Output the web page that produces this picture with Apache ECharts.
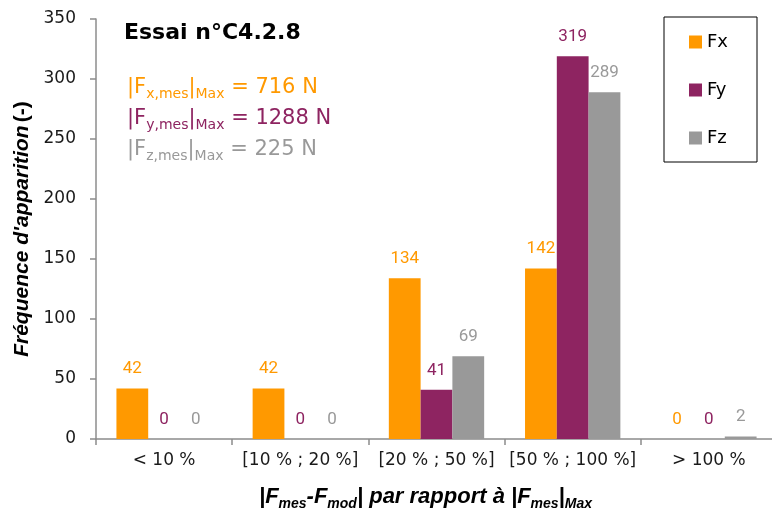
<!DOCTYPE html>
<html>
<head>
<meta charset="utf-8">
<script src="https://cdn.jsdelivr.net/npm/echarts@6/dist/echarts.min.js"></script>
<style>html,body{margin:0;padding:0;background:#fff;}#c{width:772px;height:510px;}</style>
</head>
<body>
<div id="c"></div>
<script>
const categories = ['< 10 %', '[10 % ; 20 %]', '[20 % ; 50 %]', '[50 % ; 100 %]', '> 100 %'];
const seriesNames = ['Fx', 'Fy', 'Fz'];
const fxValues = [42, 42, 134, 142, 0];
const fyValues = [0, 0, 41, 319, 0];
const fzValues = [0, 0, 69, 289, 2];
const yMin = 0, yMax = 350, yInterval = 50;
const titleText = 'Essai n°C4.2.8';
const maxForces = [
  {axis: 'x', value: 716},
  {axis: 'y', value: 1288},
  {axis: 'z', value: 225}
];

const colors = ['#FF9900', '#8E2461', '#999999'];
const FONT = '"DejaVu Sans", sans-serif';
const NAMEFONT = '"Liberation Sans", sans-serif';

function annotationLine(item, i) {
  const c = colors[i];
  return {
    type: 'text',
    left: 127,
    top: 77 + i * 31,
    style: {
      text: '{m||F}{s|' + item.axis + ',mes}{m||}{s|Max}{m| = ' + item.value + ' N}',
      rich: {
        m: {fontSize: 21, fontFamily: FONT, fill: c, lineHeight: 27},
        s: {fontSize: 14, fontFamily: FONT, fill: c, lineHeight: 14, verticalAlign: 'bottom'}
      }
    }
  };
}

const chart = echarts.init(document.getElementById('c'), null, {renderer: 'canvas'});
const seriesData = [fxValues, fyValues, fzValues];

chart.setOption({
  backgroundColor: '#ffffff',
  animation: false,
  color: colors,
  grid: {left: 96, right: -5, top: 19, bottom: 71, containLabel: false, outerBoundsMode: 'none'},
  legend: {
    data: seriesNames,
    orient: 'vertical',
    left: 664,
    top: 17,
    padding: [16, 29, 15, 25],
    itemGap: 30,
    itemWidth: 13,
    itemHeight: 13,
    icon: 'rect',
    borderColor: '#000',
    borderWidth: 1,
    textStyle: {fontSize: 18, fontFamily: FONT, color: '#000'}
  },
  xAxis: {
    type: 'category',
    data: categories,
    boundaryGap: true,
    axisLine: {lineStyle: {color: '#8c8c8c', width: 1.5}},
    axisTick: {show: true, length: 6, lineStyle: {color: '#8c8c8c', width: 1.5}},
    axisLabel: {fontSize: 17, fontFamily: FONT, color: '#1a1a1a', margin: 13, interval: 0},
    name: '{m||F}{s|mes}{m|-F}{s|mod}{m|| par rapport à |F}{s|mes}{m||}{s|Max}',
    nameLocation: 'middle',
    nameGap: 44,
    nameTextStyle: {
      padding: [0, 22, 0, 0],
      rich: {
        m: {fontSize: 22, fontFamily: NAMEFONT, fontWeight: 'bold', fontStyle: 'italic', color: '#000', lineHeight: 28},
        s: {fontSize: 14, fontFamily: NAMEFONT, fontWeight: 'bold', fontStyle: 'italic', color: '#000', lineHeight: 14, verticalAlign: 'bottom'}
      }
    }
  },
  yAxis: {
    type: 'value',
    min: yMin,
    max: yMax,
    interval: yInterval,
    splitLine: {show: false},
    axisLine: {show: true, lineStyle: {color: '#8c8c8c', width: 1.5}},
    axisTick: {show: true, length: 6, lineStyle: {color: '#8c8c8c', width: 1.5}},
    axisLabel: {fontSize: 17, fontFamily: FONT, color: '#1a1a1a', margin: 20},
    name: '{bi|Fréquence d\'apparition} {b|(-)}',
    nameLocation: 'middle',
    nameGap: 63,
    nameTextStyle: {
      rich: {
        bi: {fontSize: 21, fontFamily: NAMEFONT, fontWeight: 'bold', fontStyle: 'italic', color: '#000'},
        b: {fontSize: 21, fontFamily: NAMEFONT, fontWeight: 'bold', color: '#000'}
      }
    }
  },
  series: seriesNames.map((n, i) => ({
    name: n,
    type: 'bar',
    data: seriesData[i],
    barGap: '0%',
    barCategoryGap: '30%',
    itemStyle: {color: colors[i]},
    label: {
      show: true,
      position: 'top',
      distance: 11,
      fontSize: 17,
      fontFamily: 'Roboto, sans-serif',
      color: colors[i]
    }
  })),
  graphic: [
    {
      type: 'text',
      left: 124,
      top: 22,
      style: {text: titleText, font: 'bold 22px "DejaVu Sans", sans-serif', fill: '#000'}
    }
  ].concat(maxForces.map(annotationLine))
});
</script>
</body>
</html>
